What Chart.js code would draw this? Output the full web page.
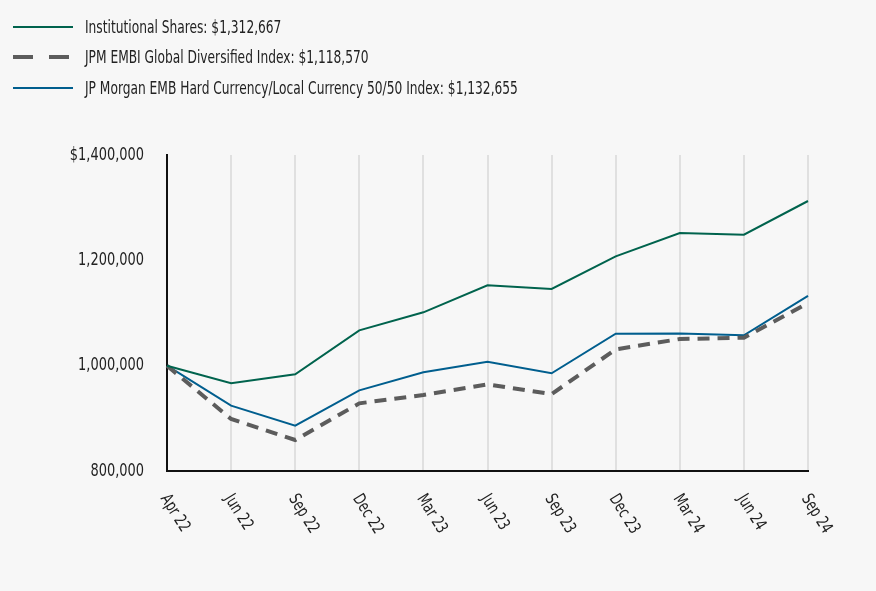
<!DOCTYPE html>
<html>
<head>
<meta charset="utf-8">
<script src="https://cdn.jsdelivr.net/npm/chart.js@4"></script>
<style>
  html, body { margin: 0; padding: 0; background: #f7f7f7; }
  #wrap { position: relative; width: 876px; height: 591px; }
  #legend { position: absolute; left: 0; top: 0; font-family: 'DejaVu Sans Condensed', 'Liberation Sans', sans-serif; font-size: 17px; color: #222; }
  .row { position: absolute; left: 13px; height: 20px; white-space: nowrap; }
  .row canvas { position: absolute; left: 0; top: 0; }
  .row span { position: absolute; left: 72px; top: 0; line-height: 20px; transform: scaleX(0.8); transform-origin: 0 50%; }
</style>
</head>
<body>
<div id="wrap">
  <canvas id="lineChart" width="876" height="591"></canvas>
  <div id="legend"></div>
</div>
<script>
const CHART = document.getElementById('lineChart')

const labels = ['Apr 22', 'Jun 22', 'Sep 22', 'Dec 22', 'Mar 23', 'Jun 23', 'Sep 23', 'Dec 23', 'Mar 24', 'Jun 24', 'Sep 24']
const institutional = [1000000, 966500, 983600, 1067100, 1101300, 1152600, 1145600, 1207600, 1251900, 1248700, 1312667]
const embiGlobal = [1000000, 898700, 858900, 928500, 944300, 964600, 946000, 1031000, 1050600, 1053100, 1118570]
const emb5050 = [1000000, 924000, 886000, 953200, 987400, 1007600, 985500, 1060700, 1061300, 1057600, 1132655]
const seriesNames = ['Institutional Shares: $1,312,667', 'JPM EMBI Global Diversified Index: $1,118,570', 'JP Morgan EMB Hard Currency/Local Currency 50/50 Index: $1,132,655']

const FONT = "'DejaVu Sans Condensed', 'Liberation Sans', sans-serif"
const GREEN = '#00634d'
const GRAY = '#5c5c5c'
const BLUE = '#005e8e'
const SQUEEZE = 0.8

// legend rows (html, sample line drawn on a small canvas)
const legendRows = [
    {name: seriesNames[0], color: GREEN, width: 2, dash: [], top: 17},
    {name: seriesNames[1], color: GRAY, width: 4, dash: [20, 16], top: 47},
    {name: seriesNames[2], color: BLUE, width: 2, dash: [], top: 78}
]
const legendEl = document.getElementById('legend')
legendRows.forEach(r => {
    const row = document.createElement('div')
    row.className = 'row'
    row.style.top = r.top + 'px'
    const c = document.createElement('canvas')
    c.width = 60; c.height = 20
    const ctx = c.getContext('2d')
    ctx.strokeStyle = r.color
    ctx.lineWidth = r.width
    ctx.setLineDash(r.dash)
    ctx.beginPath(); ctx.moveTo(0, 10); ctx.lineTo(60, 10); ctx.stroke()
    const s = document.createElement('span')
    s.textContent = r.name
    row.appendChild(c); row.appendChild(s)
    legendEl.appendChild(row)
})

// axis labels drawn in a condensed style; x labels rotated clockwise from the tick
const axisLabelPlugin = {
    id: 'axisLabels',
    afterDraw(chart) {
        const ctx = chart.ctx
        const x = chart.scales.x
        const y = chart.scales.y
        const area = chart.chartArea
        ctx.save()
        ctx.fillStyle = '#222'
        ctx.textBaseline = 'middle'

        ctx.font = '18px ' + FONT
        ctx.textAlign = 'right'
        y.ticks.forEach(t => {
            const py = y.getPixelForValue(t.value)
            ctx.save()
            ctx.translate(area.left - 23, py)
            ctx.scale(SQUEEZE, 1)
            ctx.fillText((t.value === 1400000 ? '$' : '') + t.value.toLocaleString('en-US'), 0, 0)
            ctx.restore()
        })

        ctx.font = '17px ' + FONT
        ctx.textAlign = 'left'
        labels.forEach((l, i) => {
            const px = x.getPixelForValue(i)
            ctx.save()
            ctx.translate(px - 3, area.bottom + 25)
            ctx.rotate(Math.PI * 58 / 180)
            ctx.scale(SQUEEZE, 1)
            ctx.fillText(l, 0, 0)
            ctx.restore()
        })
        ctx.restore()
    }
}

let lineChart = new Chart(CHART, {
    type: 'line',
    data: {
        labels: labels,
        datasets: [
            {label: seriesNames[0], data: institutional, borderColor: GREEN, borderWidth: 2, pointRadius: 0, tension: 0, fill: false},
            {label: seriesNames[1], data: embiGlobal, borderColor: GRAY, borderWidth: 4, borderDash: [12, 8], pointRadius: 0, tension: 0, fill: false},
            {label: seriesNames[2], data: emb5050, borderColor: BLUE, borderWidth: 2, pointRadius: 0, tension: 0, fill: false}
        ]
    },
    options: {
        responsive: false,
        animation: false,
        layout: {padding: {left: 0, top: 155, right: 68, bottom: 0}},
        plugins: {legend: {display: false}, tooltip: {enabled: false}},
        scales: {
            x: {
                offset: false,
                grid: {color: '#e0e0e0', lineWidth: 2, drawTicks: false},
                border: {color: '#111', width: 2},
                ticks: {display: false},
                afterFit: s => { s.height = 120 }
            },
            y: {
                min: 800000,
                max: 1400000,
                grid: {display: false, drawTicks: false},
                border: {color: '#111', width: 2},
                ticks: {display: false, stepSize: 200000},
                afterFit: s => { s.width = 167 }
            }
        }
    },
    plugins: [axisLabelPlugin]
})
</script>
</body>
</html>
